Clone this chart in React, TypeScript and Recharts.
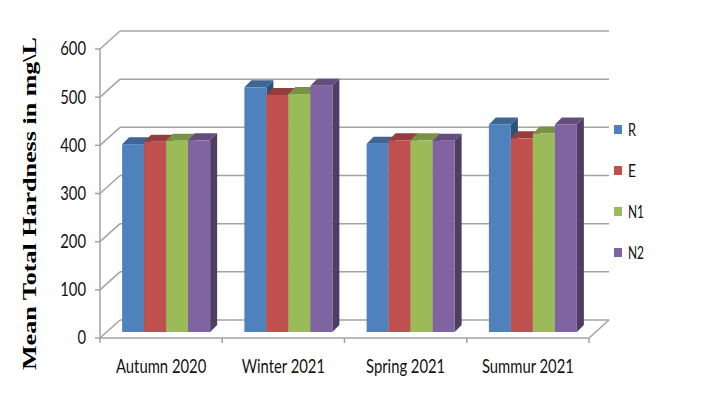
import React from "react"
import { Bar, BarChart, CartesianGrid, XAxis, YAxis } from "recharts"

const categories = ["Autumn 2020", "Winter 2021", "Spring 2021", "Summur 2021"]
const seriesR = [390, 508, 391, 431]
const seriesE = [395, 492, 398, 402]
const seriesN1 = [397, 494, 398, 412]
const seriesN2 = [398, 511, 397, 431]
const seriesNames = ["R", "E", "N1", "N2"]
const seriesColors = ["#4f81bd", "#c0504d", "#9bbb59", "#8064a2"]
const yTicks = [0, 100, 200, 300, 400, 500, 600]

const data = categories.map((name, i) => ({
  name,
  R: seriesR[i],
  E: seriesE[i],
  N1: seriesN1[i],
  N2: seriesN2[i],
}))

// chart geometry
const W = 704
const H = 393
const AXIS_W = 100
const TOP = 49
const FLOOR_Y = 338
const RIGHT = 589
const X_AXIS_H = 30
const BAND = (RIGHT - AXIS_W) / categories.length
const WALL_DX = 20
const WALL_DY = -18
const BAR_DX = 6
const BAR_DY = -6
const DEPTH = 7
const GRID = "#a3a3a3"
const FONT = "Lato, 'Open Sans', sans-serif"

function shade(hex: string, k: number) {
  const n = parseInt(hex.slice(1), 16)
  const r = Math.round(((n >> 16) & 255) * k)
  const g = Math.round(((n >> 8) & 255) * k)
  const b = Math.round((n & 255) * k)
  return `rgb(${r},${g},${b})`
}

function Bar3D(props: any) {
  const { x, y, width, height, fill } = props
  if (!height || height <= 0) return null
  const fx = x + BAR_DX
  const fy = y + BAR_DY
  const top = `${fx},${fy} ${fx + DEPTH},${fy - DEPTH} ${fx + width + DEPTH},${fy - DEPTH} ${fx + width},${fy}`
  const side = `${fx + width},${fy} ${fx + width + DEPTH},${fy - DEPTH} ${fx + width + DEPTH},${fy + height - DEPTH} ${fx + width},${fy + height}`
  return (
    <g>
      <polygon points={side} fill={shade(fill, 0.62)} />
      <polygon points={top} fill={shade(fill, 0.78)} />
      <rect x={fx} y={fy} width={width} height={height} fill={fill} />
    </g>
  )
}

function GridLine(props: any) {
  const { x1, y1, x2 } = props
  const isFloor = Math.abs(y1 - FLOOR_Y) < 1
  return (
    <g>
      <line x1={x1} y1={y1} x2={x1 + WALL_DX} y2={y1 + WALL_DY} stroke={GRID} strokeWidth={1.5} />
      <line x1={x1 + WALL_DX} y1={y1 + WALL_DY} x2={x2 + WALL_DX} y2={y1 + WALL_DY} stroke={GRID} strokeWidth={1.5} />
      {isFloor && (
        <line x1={x2} y1={y1} x2={x2 + WALL_DX} y2={y1 + WALL_DY} stroke={GRID} strokeWidth={1.5} />
      )}
    </g>
  )
}

function XTick(props: any) {
  const { x, payload, index } = props
  const left = x - BAND / 2
  return (
    <g>
      <line x1={left} y1={FLOOR_Y} x2={left} y2={FLOOR_Y + 5} stroke={GRID} strokeWidth={1.5} />
      {index === categories.length - 1 && (
        <line x1={x + BAND / 2} y1={FLOOR_Y} x2={x + BAND / 2} y2={FLOOR_Y + 5} stroke={GRID} strokeWidth={1.5} />
      )}
      <text transform={`translate(${x},373) scale(0.8,1)`} textAnchor="middle" fontFamily={FONT} fontSize={18.5} fill="#111">
        {payload.value}
      </text>
    </g>
  )
}

function YTick(props: any) {
  const { y, payload } = props
  return (
    <text transform={`translate(${AXIS_W - 14},${y}) scale(0.8,1)`} textAnchor="end" dy="0.35em" fontFamily={FONT} fontSize={18.5} fill="#111">
      {payload.value}
    </text>
  )
}

function LegendBox() {
  return (
    <svg width={80} height={200} style={{ position: "absolute", left: 604, top: 100 }}>
      {seriesNames.map((s, i) => (
        <g key={s}>
          <rect x={10} y={i * 41 + 25} width={8} height={9} fill={seriesColors[i]} />
          <text x={24} y={i * 41 + 36} fontFamily={FONT} fontSize={17} textLength={s.length * 8} lengthAdjust="spacingAndGlyphs" fill="#111">
            {s}
          </text>
        </g>
      ))}
    </svg>
  )
}

export default function App() {
  return (
    <div style={{ position: "absolute", left: 0, top: 0, width: W, height: H, background: "#fff" }}>
      <BarChart
        width={W}
        height={H}
        data={data}
        margin={{ top: TOP, right: W - RIGHT, left: 0, bottom: H - FLOOR_Y - X_AXIS_H }}
        barCategoryGap="13.2%"
        barGap={0}
      >
        <CartesianGrid vertical={false} horizontal={(p: any) => <GridLine key={p.key} {...p} />} />
        <XAxis
          dataKey="name"
          height={X_AXIS_H}
          tickLine={false}
          axisLine={{ stroke: GRID, strokeWidth: 1.5 }}
          tick={<XTick />}
          interval={0}
        />
        <YAxis
          width={AXIS_W}
          domain={[0, 600]}
          ticks={yTicks}
          tickSize={5}
          tickLine={{ stroke: GRID, strokeWidth: 1.5 }}
          axisLine={{ stroke: GRID, strokeWidth: 1.5 }}
          tick={<YTick />}
          label={{
            content: () => (
              <text
                transform="translate(36,370) rotate(-90)"
                textLength={333}
                lengthAdjust="spacingAndGlyphs"
                fontFamily="'Liberation Serif', 'DejaVu Serif', serif"
                fontWeight="bold"
                fontSize={19}
                fill="#000"
              >
                Mean Total Hardness in mg\L
              </text>
            ),
          }}
        />
        {seriesNames.map((s, i) => (
          <Bar key={s} dataKey={s} fill={seriesColors[i]} shape={<Bar3D />} isAnimationActive={false} />
        ))}
      </BarChart>
      <LegendBox />
    </div>
  )
}
